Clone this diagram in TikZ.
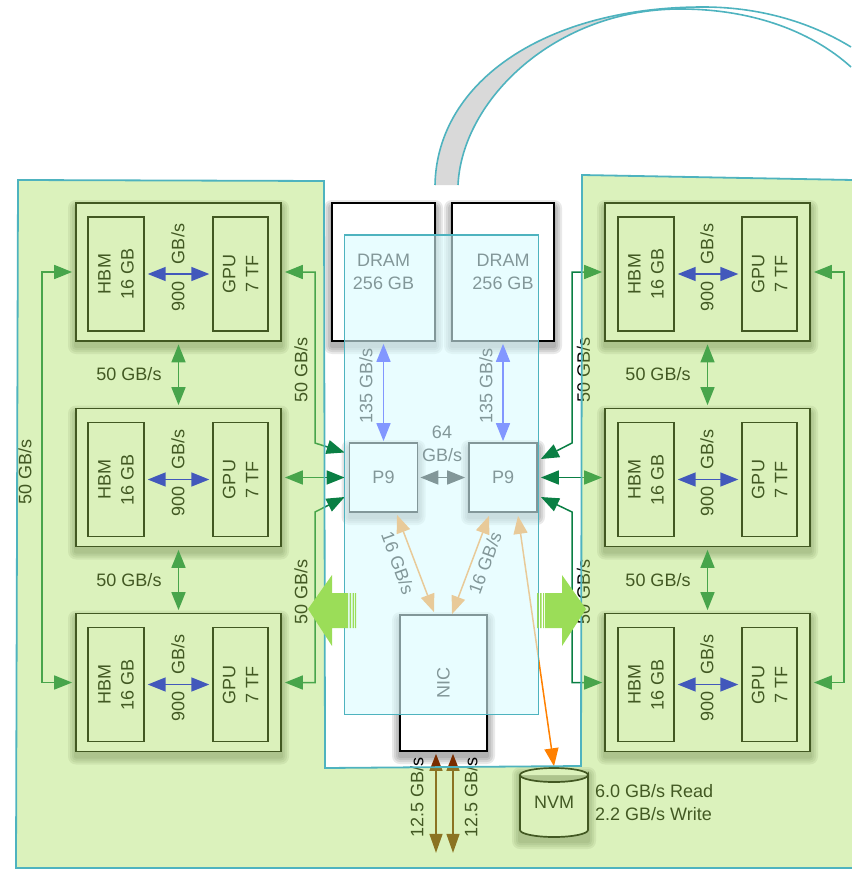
\documentclass[tikz,border=0pt]{standalone}
\usepackage{fontspec}
\setmainfont{Liberation Sans}
\usetikzlibrary{arrows.meta,calc}
\definecolor{dgreen}{RGB}{10,127,68}
\definecolor{pureblue}{RGB}{0,0,255}
\definecolor{orangeline}{RGB}{255,128,0}
\definecolor{brownline}{RGB}{122,45,0}
\definecolor{teal2}{RGB}{78,179,191}
\definecolor{polygreen}{RGB}{165,222,87}
\definecolor{polycyan}{RGB}{218,252,255}
\definecolor{bigarrow}{RGB}{155,221,88}
\newcommand{\softshadow}[4]{%
  \foreach \s in {8,6,4,2}{%
    \fill[black,opacity=.085,rounded corners=\s pt]
      ({#1-#3/2-\s},{#2-#4/2-\s+5}) rectangle ({#1+#3/2+\s},{#2+#4/2+\s+5});
  }}
\tikzset{
  lbl/.style={font=\fontsize{18}{23}\selectfont,text=black,inner sep=0pt,align=center},
  rotlbl/.style={lbl,rotate=90},
  outerbox/.style={draw=black,fill=white,line width=1.7pt,minimum width=205pt,minimum height=138pt,inner sep=0pt},
  innerbox/.style={lbl,draw=black,rotate=90,line width=1.4pt,minimum width=114pt,minimum height=56pt},
  drambox/.style={lbl,draw=black,fill=white,line width=1.7pt,minimum width=103pt,minimum height=138pt},
  cpubox/.style={lbl,draw=black,fill=white,line width=1.7pt,minimum width=68pt,minimum height=69pt},
  headed/.style={{Triangle[length=18pt,width=14pt]}-{Triangle[length=18pt,width=14pt]}},
  gbus/.style={headed,draw=dgreen,line width=1.5pt,shorten <=3pt,shorten >=3pt},
  bluebus/.style={headed,draw=pureblue,line width=1.5pt,shorten <=3pt,shorten >=3pt},
  tanbus/.style={headed,draw=orangeline,line width=1.5pt},
  brownbus/.style={{Triangle[length=17pt,width=13pt]}-{Triangle[length=19pt,width=13pt]},draw=brownline,line width=1.5pt},
  region/.style={draw=teal2,line width=1.8pt},
}
\begin{document}
\begin{tikzpicture}[x=1pt,y=-1pt]
\useasboundingbox (0,0) rectangle (851,869);
% crescent on top
\fill[black!15] (435,185) .. controls (437,80) and (548,7) .. (703,7)
   -- (680,9) .. controls (555,9) and (462,100) .. (458,185) -- cycle;
\draw[teal2,line width=1.6pt] (435,185) .. controls (437,80) and (548,7) .. (703,7)
   .. controls (765,7) and (815,25) .. (851,47);
\draw[teal2,line width=1.6pt] (458,185) .. controls (462,100) and (555,9) .. (680,9)
   .. controls (750,9) and (810,30) .. (851,67);
% compute boxes
\foreach \n/\y in {1/272,2/477.5,3/682.5}{
  \softshadow{178.5}{\y}{205}{138}
  \softshadow{707.5}{\y}{205}{138}
  \node[outerbox] (L\n) at (178.5,\y) {};
  \node[outerbox] (R\n) at (707.5,\y) {};
  \node[innerbox] (HL\n) at (116,\y+2) {HBM\\16 GB};
  \node[innerbox,minimum height=55pt] (GL\n) at (240.5,\y+2) {GPU\\7 TF};
  \node[innerbox] (HR\n) at (646,\y+2) {HBM\\16 GB};
  \node[innerbox,minimum height=55pt] (GR\n) at (769.5,\y+2) {GPU\\7 TF};
  \draw[bluebus] (HL\n.south) -- (GL\n.north);
  \draw[bluebus] (HR\n.south) -- (GR\n.north);
  \node[rotlbl] (tl\n) at (178,\y-4.5) {900\hspace{17pt}GB/s};
  \node[rotlbl] (tr\n) at (707,\y-4.5) {900\hspace{17pt}GB/s};
}
% centre boxes
\softshadow{383.5}{272}{103}{138}
\softshadow{503}{272}{102}{138}
\softshadow{383.5}{477.5}{68}{69}
\softshadow{503}{477.5}{68}{69}
\softshadow{443.5}{683}{87}{136}
\softshadow{554}{803}{68}{66}
\node[drambox] (D1) at (383.5,272) {DRAM\\256 GB};
\node[drambox,minimum width=102pt] (D2) at (503,272) {DRAM\\256 GB};
\node[cpubox] (P1) at (383.5,477.5) {P9};
\node[cpubox] (P2) at (503,477.5) {P9};
\node[lbl,draw=black,fill=white,line width=1.7pt,rotate=90,minimum width=136pt,minimum height=87pt] (NIC) at (443.5,683) {NIC};
% NVM cylinder
\filldraw[draw=black,fill=white,line width=1.7pt] (520,775) -- (520,830) arc[x radius=34,y radius=-7,start angle=180,end angle=360] -- (588,775) arc[x radius=34,y radius=7,start angle=0,end angle=360];
\node[lbl,minimum width=68pt,minimum height=72pt] (NVM) at (554,802.5) {\raisebox{-4pt}{NVM}};
% vertical links between compute boxes
\draw[gbus,shorten <=2.5pt,shorten >=2.5pt] (L1.south) -- (L2.north);
\draw[gbus,shorten <=2.5pt,shorten >=2.5pt] (L2.south) -- (L3.north);
\draw[gbus,shorten <=2.5pt,shorten >=2.5pt] (R1.south) -- (R2.north);
\draw[gbus,shorten <=2.5pt,shorten >=2.5pt] (R2.south) -- (R3.north);
% outer loops
\draw[gbus] (L1.west) -- (42,272) -- (42,682.5) -- (L3.west);
\draw[gbus] (R1.east) -- (844,272) -- (844,682.5) -- (R3.east);
% links to the P9s
\coordinate (a1) at ($(P1.west)+(-4,-25)$);
\coordinate (a3) at ($(P1.west)+(-4,19.5)$);
\coordinate (b1) at ($(P2.east)+(3,-18.5)$);
\coordinate (b3) at ($(P2.east)+(3,19.5)$);
\draw[gbus,shorten >=0pt] (L1.east) -- (315,272) -- (315,443) -- (a1);
\draw[gbus,shorten >=4pt] (L2.east) -- (P1.west);
\draw[gbus,shorten >=0pt] (L3.east) -- (315,682.5) -- (315,512) -- (a3);
\draw[gbus,shorten <=2pt,shorten >=0pt] (R1.west) -- (572,272) -- (572,443) -- (b1);
\draw[gbus,shorten <=2pt] (R2.west) -- (P2.east);
\draw[gbus,shorten <=2pt,shorten >=0pt] (R3.west) -- (572,682.5) -- (572,512) -- (b3);
% memory and processor links
\draw[bluebus,shorten <=2pt,shorten >=1pt] (D1.south) -- (P1.north);
\draw[bluebus,shorten <=2pt,shorten >=1pt] (D2.south) -- (P2.north);
\draw[headed,draw=black,line width=1.5pt,shorten <=2pt,shorten >=3pt] (P1.east) -- (P2.west);
\draw[tanbus] ($(P1.south)+(13.5,2)$) -- ($(NIC.east)+(-9.5,-2)$);
\draw[tanbus] ($(P2.south)+(-14,3)$) -- ($(NIC.east)+(8.5,0)$);
\draw[tanbus] ($(P2.south)+(15,3)$) -- (NVM.north);
\draw[brownbus] ($(NIC.west)+(-7.5,2)$) -- ($(NIC.west)+(-7.5,101)$);
\draw[brownbus] ($(NIC.west)+(9.5,2)$) -- ($(NIC.west)+(9.5,101)$);
% labels
\foreach \y in {374,580}{
  \node[lbl] (vl\y) at (129,\y) {50 GB/s};
  \node[lbl] (vr\y) at (658,\y) {50 GB/s};
}
\node[rotlbl] (s1) at (25,472) {50 GB/s};
\node[rotlbl] (s2) at (301,369.5) {50 GB/s};
\node[rotlbl] (s3) at (301,592) {50 GB/s};
\node[rotlbl] (s4) at (583.5,369.5) {50 GB/s};
\node[rotlbl] (s5) at (583.5,592) {50 GB/s};
\node[rotlbl] (m1) at (366,386) {135 GB/s};
\node[rotlbl] (m2) at (486,386) {135 GB/s};
\node[lbl] (c64) at (442,443.5) {64\\GB/s};
\node[lbl,rotate=-70] (n1) at (398,563) {16 GB/s};
\node[lbl,rotate=70] (n2) at (485,563) {16 GB/s};
\node[rotlbl] (e1) at (417,797) {12.5 GB/s};
\node[rotlbl] (e2) at (471,797) {12.5 GB/s};
\node[lbl,align=left,anchor=west] (nvl) at (595,802.5) {6.0 GB/s Read\\2.2 GB/s Write};
% translucent regions
\filldraw[region,fill=polygreen,fill opacity=.4]
  (18,180) -- (324,181) -- (325,768) -- (581,766) -- (582,175) -- (853,180) -- (853,868) -- (16,868) -- cycle;
\filldraw[region,fill=polycyan,fill opacity=.6] (344.5,235) rectangle (538.5,714.5);
% big arrows
\fill[bigarrow] (308,609) -- (332,575) -- (332,593) -- (348,593) -- (348,628) -- (332,628) -- (332,646) -- cycle;
\fill[bigarrow] (349.5,593) rectangle (351,628) (352.5,593) rectangle (354,628) (355,593) rectangle (356,628);
\fill[bigarrow] (586,609) -- (562,575) -- (562,593) -- (545,593) -- (545,628) -- (562,628) -- (562,646) -- cycle;
\fill[bigarrow] (537,593) rectangle (538.5,628) (540,593) rectangle (541.5,628) (543,593) rectangle (544,628);
\end{tikzpicture}
\end{document}
